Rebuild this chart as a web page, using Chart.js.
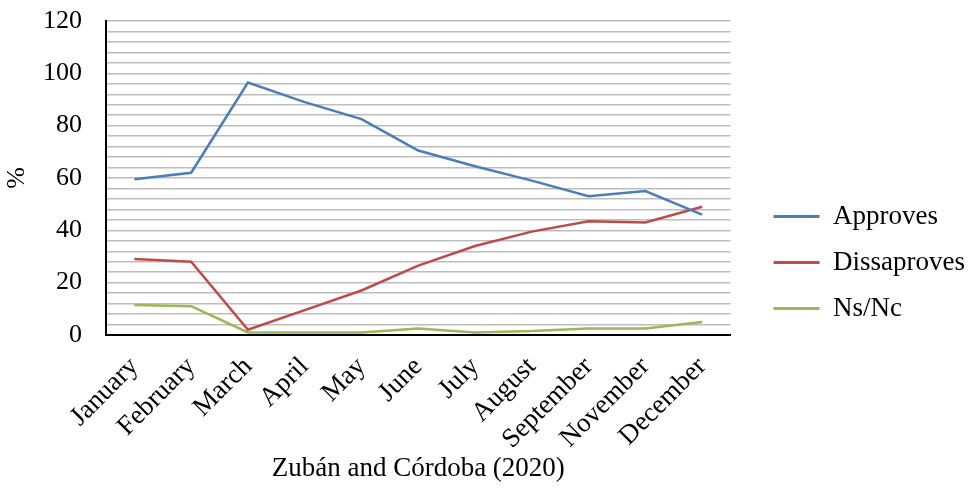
<!DOCTYPE html>
<html>
<head>
<meta charset="utf-8">
<script src="https://cdn.jsdelivr.net/npm/chart.js@4"></script>
<style>
html,body{margin:0;padding:0;background:#fff;}
#wrap{width:973px;height:497px;}
</style>
</head>
<body>
<div id="wrap"><canvas id="c" width="973" height="497"></canvas></div>
<script>
const categories = ['January','February','March','April','May','June','July','August','September','November','December'];
const approves = [59.5, 62, 96.5, 89, 82.5, 70.5, 64.5, 59, 53, 55, 46];
const dissaproves = [29, 28, 2, 9.5, 17, 26.5, 34, 39.5, 43.5, 43, 49];
const nsnc = [11.5, 11, 1, 1, 1, 2.5, 1, 1.5, 2.5, 2.5, 5];
const yTicks = [0, 20, 40, 60, 80, 100, 120];

const FONT = '"Liberation Serif", "Times New Roman", serif';

// shift the legend block right/down inside its reserved space
const legendShift = {
  id: 'legendShift',
  afterLayout(chart) {
    const l = chart.legend;
    if (l) { l.top += 6; l.bottom += 6; l.left += 24; l.right += 24; }
  }
};

new Chart(document.getElementById('c'), {
  type: 'line',
  data: {
    labels: categories,
    datasets: [
      {label: 'Approves', data: approves, borderColor: '#4A7EBB', backgroundColor: '#4A7EBB', pointBorderWidth: 3},
      {label: 'Dissaproves', data: dissaproves, borderColor: '#BE4B48', backgroundColor: '#BE4B48', pointBorderWidth: 3},
      {label: 'Ns/Nc', data: nsnc, borderColor: '#98B954', backgroundColor: '#98B954', pointBorderWidth: 3}
    ]
  },
  options: {
    responsive: false,
    animation: false,
    devicePixelRatio: 1,
    elements: {
      line: {borderWidth: 2.5, tension: 0},
      point: {radius: 0, hoverRadius: 0}
    },
    layout: {padding: {left: 0, right: 22, top: 21, bottom: 12}},
    plugins: {
      tooltip: {enabled: false},
      legend: {
        position: 'right',
        align: 'end',
        fullSize: false,
        labels: {
          usePointStyle: true,
          pointStyle: 'line',
          pointStyleWidth: 46,
          boxWidth: 46,
          padding: 19,
          color: '#000',
          font: {family: FONT, size: 27}
        }
      }
    },
    scales: {
      x: {
        offset: true,
        grid: {display: false, drawTicks: false},
        border: {display: true, color: '#000', width: 2},
        ticks: {
          color: '#000',
          font: {family: FONT, size: 27},
          maxRotation: 45,
          minRotation: 45,
          padding: 16,
          autoSkip: false
        },
        title: {
          display: true,
          text: 'Zubán and Córdoba (2020)',
          color: '#000',
          font: {family: FONT, size: 27},
          padding: 0
        },
        afterFit(s) { s.height = 150; }
      },
      y: {
        min: 0,
        max: 120,
        grid: {color: '#BDBDBD', lineWidth: 1.5, drawTicks: false},
        border: {display: true, color: '#000', width: 2},
        ticks: {
          stepSize: 4,
          color: '#000',
          font: {family: FONT, size: 26},
          padding: 24,
          autoSkip: false,
          callback: (v) => yTicks.includes(v) ? String(v) : ''
        },
        title: {
          display: true,
          text: '%',
          color: '#000',
          font: {family: FONT, size: 26},
          padding: {top: 2, bottom: 0}
        },
        afterFit(s) { s.width = 106; s.paddingTop = 0; s.paddingBottom = 0; }
      }
    }
  },
  plugins: [legendShift]
});
</script>
</body>
</html>
